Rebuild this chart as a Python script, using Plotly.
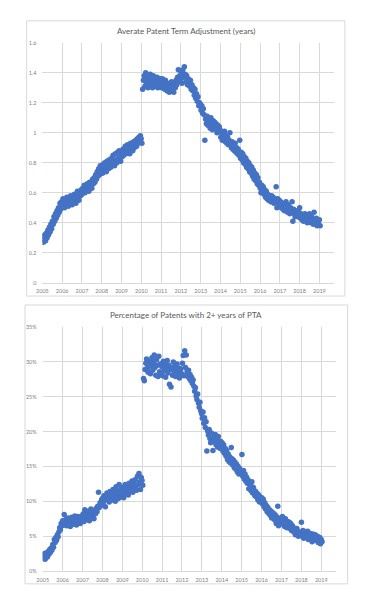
import plotly.graph_objects as go
import pandas as pd

# Average patent term adjustment (years), one value per bi-weekly issue date, 2005 -> Jan 2019
avg_pta = [
    0.31, 0.27, 0.29, 0.32, 0.28, 0.33, 0.30, 0.35, 0.32, 0.37, 0.34, 0.39, 0.36, 0.41, 0.39, 0.44, 0.41, 0.46, 0.43, 0.48, 0.45, 0.50, 0.47, 0.53, 0.49, 0.54,  # 2005
    0.51, 0.56, 0.53, 0.50, 0.55, 0.52, 0.57, 0.54, 0.51, 0.56, 0.53, 0.58, 0.55, 0.52, 0.57, 0.54, 0.59, 0.56, 0.53, 0.58, 0.61, 0.57, 0.55, 0.60, 0.58, 0.62,  # 2006
    0.59, 0.63, 0.61, 0.65, 0.60, 0.64, 0.62, 0.66, 0.63, 0.61, 0.67, 0.64, 0.66, 0.63, 0.69, 0.66, 0.70, 0.67, 0.72, 0.69, 0.74, 0.71, 0.76, 0.72, 0.78, 0.74,  # 2007
    0.76, 0.73, 0.79, 0.75, 0.80, 0.77, 0.74, 0.81, 0.78, 0.76, 0.82, 0.79, 0.77, 0.83, 0.80, 0.85, 0.81, 0.78, 0.86, 0.82, 0.80, 0.87, 0.83, 0.88, 0.84, 0.81,  # 2008
    0.87, 0.84, 0.89, 0.85, 0.88, 0.91, 0.86, 0.89, 0.92, 0.87, 0.90, 0.86, 0.93, 0.89, 0.91, 0.88, 0.94, 0.90, 0.92, 0.95, 0.91, 0.96, 0.93, 0.97, 0.94, 0.98,  # 2009
    0.96, 0.93, 1.29, 1.35, 1.38, 1.31, 1.40, 1.33, 1.36, 1.30, 1.37, 1.34, 1.39, 1.32, 1.35, 1.30, 1.38, 1.33, 1.36, 1.31, 1.34, 1.37, 1.30, 1.35, 1.32, 1.36,  # 2010
    1.33, 1.30, 1.36, 1.31, 1.34, 1.29, 1.35, 1.32, 1.28, 1.33, 1.30, 1.27, 1.32, 1.29, 1.34, 1.28, 1.31, 1.27, 1.33, 1.30, 1.35, 1.32, 1.37, 1.42, 1.34, 1.38,  # 2011
    1.36, 1.40, 1.33, 1.42, 1.37, 1.44, 1.39, 1.34, 1.38, 1.32, 1.36, 1.33, 1.31, 1.35, 1.29, 1.32, 1.28, 1.30, 1.25, 1.29, 1.23, 1.26, 1.21, 1.24, 1.18, 1.20,  # 2012
    1.19, 1.15, 1.18, 1.13, 1.16, 1.12, 0.95, 1.09, 1.06, 1.11, 1.05, 1.09, 1.07, 1.03, 1.10, 1.06, 1.02, 1.08, 1.04, 1.07, 1.03, 1.06, 1.00, 1.05, 1.01, 1.04,  # 2013
    1.02, 0.97, 1.00, 0.95, 0.99, 0.96, 1.01, 0.94, 0.98, 0.93, 0.97, 0.92, 0.95, 1.00, 0.93, 0.90, 0.94, 0.89, 0.92, 0.88, 0.93, 0.87, 0.90, 0.86, 0.89, 0.85,  # 2014
    0.95, 0.83, 0.87, 0.82, 0.86, 0.80, 0.84, 0.79, 0.83, 0.77, 0.81, 0.76, 0.80, 0.74, 0.78, 0.73, 0.77, 0.71, 0.75, 0.69, 0.73, 0.68, 0.72, 0.66, 0.70, 0.65,  # 2015
    0.67, 0.63, 0.60, 0.65, 0.61, 0.64, 0.59, 0.62, 0.57, 0.61, 0.56, 0.59, 0.55, 0.58, 0.56, 0.54, 0.58, 0.55, 0.57, 0.53, 0.56, 0.54, 0.64, 0.50, 0.56, 0.52,  # 2016
    0.55, 0.51, 0.54, 0.50, 0.53, 0.49, 0.52, 0.48, 0.51, 0.54, 0.49, 0.47, 0.52, 0.48, 0.46, 0.50, 0.47, 0.54, 0.41, 0.49, 0.46, 0.44, 0.48, 0.45, 0.47, 0.44,  # 2017
    0.47, 0.50, 0.43, 0.46, 0.42, 0.45, 0.41, 0.44, 0.46, 0.42, 0.45, 0.40, 0.44, 0.41, 0.46, 0.42, 0.40, 0.44, 0.41, 0.39, 0.47, 0.42, 0.40, 0.43, 0.38, 0.41,  # 2018
    0.39, 0.42, 0.38,  # 2019
]

# Percentage of patents with 2+ years of PTA (%), same issue dates
pct_2plus = [
    2.3, 1.8, 2.5, 1.7, 2.2, 2.6, 2.0, 2.8, 2.4, 3.1, 2.7, 3.3, 3.0, 3.8, 3.4, 4.5, 4.1, 4.8, 4.4, 5.2, 4.9, 5.6, 6.2, 5.9, 6.8, 6.5,  # 2005
    7.2, 6.6, 8.1, 6.9, 7.4, 6.5, 7.0, 7.6, 6.8, 7.3, 6.4, 7.1, 7.7, 6.9, 7.5, 6.7, 7.9, 7.2, 6.6, 7.4, 7.8, 7.0, 7.6, 6.8, 7.3, 7.9,  # 2006
    7.5, 8.2, 7.1, 8.8, 7.7, 8.3, 7.4, 8.0, 8.6, 7.2, 8.1, 8.9, 7.8, 8.4, 8.0, 7.5, 8.7, 8.2, 9.0, 8.5, 9.3, 11.3, 9.1, 9.8, 9.4, 10.2,  # 2007
    10.4, 9.6, 10.8, 10.1, 9.2, 10.6, 11.2, 10.3, 10.9, 9.9, 11.4, 10.5, 11.0, 10.2, 11.7, 10.7, 11.3, 10.0, 12.1, 10.8, 11.5, 10.4, 12.4, 11.1, 10.6, 11.8,  # 2008
    11.2, 12.0, 10.5, 11.7, 12.4, 11.0, 12.2, 11.6, 10.9, 12.6, 11.4, 12.1, 11.8, 12.9, 11.3, 12.5, 11.9, 13.1, 12.2, 11.6, 13.6, 12.4, 14.0, 12.8, 11.7, 13.4,  # 2009
    13.0, 12.3, 27.6, 27.3, 28.9, 29.8, 30.4, 29.1, 28.5, 29.6, 30.1, 28.3, 29.4, 30.6, 28.8, 29.9, 31.0, 29.2, 28.1, 30.3, 29.5, 27.9, 30.8, 28.6, 29.7, 28.4,  # 2010
    29.3, 28.0, 30.1, 28.7, 29.6, 27.8, 29.0, 30.2, 28.4, 29.5, 26.8, 28.9, 26.4, 29.2, 28.1, 30.0, 28.6, 29.4, 27.9, 28.8, 29.7, 28.2, 29.1, 27.7, 28.5, 29.0,  # 2011
    28.3, 29.8, 30.9, 28.0, 31.6, 29.2, 31.0, 28.6, 27.9, 28.8, 27.6, 28.2, 27.3, 27.8, 26.9, 27.4, 26.5, 25.8, 26.3, 25.1, 24.6, 25.4, 24.1, 23.5, 24.2, 23.0,  # 2012
    22.6, 21.9, 22.8, 21.2, 22.0, 20.6, 21.4, 17.2, 20.1, 19.5, 20.3, 19.0, 18.4, 19.8, 18.7, 17.3, 19.2, 18.5, 19.6, 18.1, 18.9, 17.8, 19.3, 18.3, 17.6, 18.6,  # 2013
    17.9, 18.4, 17.2, 18.1, 16.9, 17.6, 16.5, 17.3, 16.0, 16.8, 15.7, 16.4, 15.5, 17.7, 16.1, 15.2, 15.9, 14.8, 15.6, 14.6, 15.3, 14.2, 15.0, 13.9, 14.7, 14.4,  # 2014
    14.0, 16.7, 13.6, 14.4, 13.2, 13.9, 12.9, 13.5, 12.6, 13.1, 11.8, 12.7, 12.3, 11.5, 12.8, 11.2, 12.0, 11.6, 10.8, 11.4, 10.6, 11.1, 10.2, 10.9, 9.9, 10.6,  # 2015
    10.1, 10.5, 9.6, 10.3, 9.2, 9.8, 8.9, 9.4, 8.5, 9.1, 8.3, 8.8, 8.0, 8.6, 7.6, 8.4, 7.8, 8.2, 7.3, 8.0, 6.8, 7.7, 9.3, 6.5, 7.5, 7.1,  # 2016
    7.6, 7.0, 7.8, 6.7, 7.3, 6.4, 7.5, 6.9, 6.2, 7.1, 6.6, 7.0, 6.1, 6.8, 5.8, 6.5, 6.3, 5.6, 6.0, 5.2, 5.7, 6.1, 5.4, 5.0, 5.6, 5.3,  # 2017
    5.5, 7.0, 5.0, 5.8, 4.7, 5.3, 5.6, 4.9, 5.2, 5.7, 4.5, 5.1, 5.4, 4.8, 5.0, 4.2, 5.3, 4.6, 4.9, 5.2, 4.4, 4.7, 5.0, 4.1, 4.6, 4.8,  # 2018
    3.9, 4.5, 4.2,  # 2019
]

title_1 = "Averate Patent Term Adjustment (years)"
title_2 = "Percentage of Patents with 2+ years of PTA"
year_range = ["2005-01-01", "2019-09-20"]

assert len(avg_pta) == len(pct_2plus) == 367
issue_dates = pd.date_range("2005-01-04", periods=len(avg_pta), freq="14D")

W, H = 368, 602
BLUE = "#4472C4"
GRID = "#d9d9d9"
TICK = "#7f7f7f"
TITLE = "#595959"
FONT = "Lato"


def px(x):
    return x / W


def py(y):
    return 1 - y / H


fig = go.Figure()
fig.add_trace(go.Scatter(x=issue_dates, y=avg_pta, mode="markers",
                         marker=dict(color=BLUE, size=5.5, line=dict(width=0)),
                         xaxis="x", yaxis="y", showlegend=False,
                         hovertemplate="%{x|%Y-%m-%d}: %{y}<extra></extra>"))
fig.add_trace(go.Scatter(x=issue_dates, y=pct_2plus, mode="markers",
                         marker=dict(color=BLUE, size=5.5, line=dict(width=0)),
                         xaxis="x2", yaxis="y2", showlegend=False,
                         hovertemplate="%{x|%Y-%m-%d}: %{y}%<extra></extra>"))

xcommon = dict(type="date", range=year_range, tick0="2005-01-01", dtick="M12",
               tickformat="%Y", showgrid=True, gridcolor=GRID, gridwidth=1,
               showline=True, linecolor=GRID, linewidth=1, zeroline=False,
               ticks="", tickfont=dict(family=FONT, size=5.5, color=TICK),
               ticklabelstandoff=3)
ycommon = dict(showgrid=True, gridcolor=GRID, gridwidth=1, zeroline=False,
               showline=False, ticks="", tickfont=dict(family=FONT, size=5.5, color=TICK),
               ticklabelstandoff=5)

fig.update_layout(
    width=W, height=H,
    margin=dict(l=0, r=0, t=0, b=0),
    paper_bgcolor="white", plot_bgcolor="white",
    xaxis=dict(domain=[px(37), px(333)], anchor="y", **xcommon),
    yaxis=dict(domain=[py(282.7), py(40)], anchor="x", range=[0, 1.6], dtick=0.2, **ycommon),
    xaxis2=dict(domain=[px(37.3), px(335)], anchor="y2", **xcommon),
    yaxis2=dict(domain=[py(573.7), py(327.3)], anchor="x2", range=[0, 35], dtick=5,
                ticksuffix="%", **ycommon),
    shapes=[
        dict(type="rect", xref="paper", yref="paper", x0=px(21), x1=px(344.5),
             y0=py(296), y1=py(18), line=dict(color=GRID, width=1)),
        dict(type="rect", xref="paper", yref="paper", x0=px(19.3), x1=px(347.3),
             y0=py(586.7), y1=py(305), line=dict(color=GRID, width=1)),
    ],
    annotations=[
        dict(text=title_1, xref="paper", yref="paper", x=px(182.7), y=py(28),
             xanchor="center", yanchor="middle", showarrow=False,
             font=dict(family=FONT, size=8, color=TITLE)),
        dict(text=title_2, xref="paper", yref="paper", x=px(182.7), y=py(315),
             xanchor="center", yanchor="middle", showarrow=False,
             font=dict(family=FONT, size=8, color=TITLE)),
    ],
)

fig.write_html("out.html", config={"displayModeBar": False},
               post_script="document.body.style.margin='0';document.body.style.overflow='hidden';")
